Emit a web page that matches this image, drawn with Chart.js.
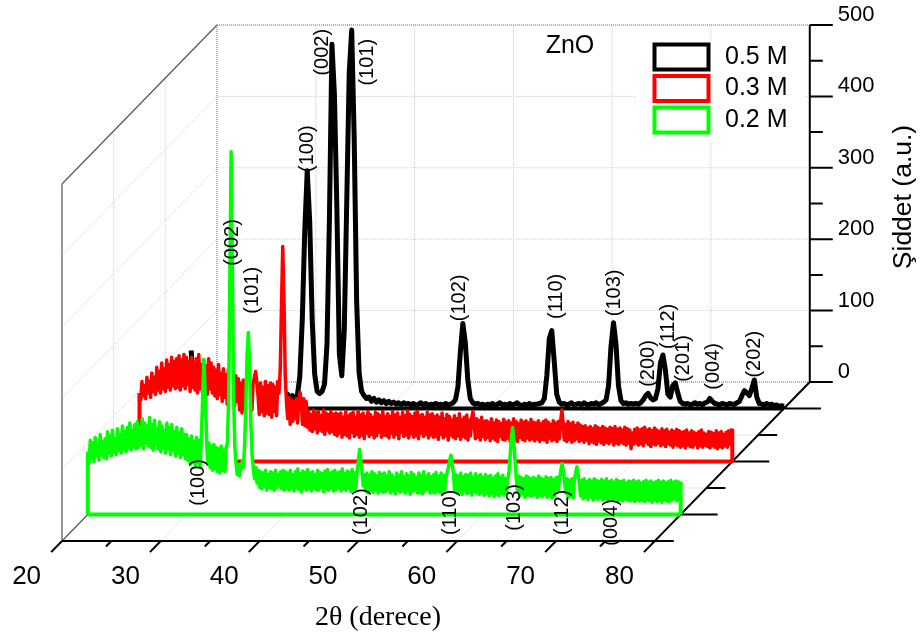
<!DOCTYPE html>
<html>
<head>
<meta charset="utf-8">
<title>ZnO</title>
<script src="https://cdn.jsdelivr.net/npm/chart.js@4"></script>
<style>
  html, body { margin: 0; padding: 0; background: #fff; }
  canvas { display: block; }
</style>
</head>
<body>
<canvas id="chartCanvas" width="922" height="637"></canvas>
<script>
const angles = [
  20,20.25,20.5,20.75,21,21.25,21.5,21.75,22,22.25,22.5,22.75,23,23.25,23.5,23.75,24,24.25,24.5,24.75,
  25,25.25,25.5,25.75,26,26.25,26.5,26.75,27,27.25,27.5,27.75,28,28.25,28.5,28.75,29,29.25,29.5,29.75,
  30,30.25,30.5,30.75,31,31.25,31.5,31.75,32,32.25,32.5,32.75,33,33.25,33.5,33.75,34,34.25,34.5,34.75,
  35,35.25,35.5,35.75,36,36.25,36.5,36.75,37,37.25,37.5,37.75,38,38.25,38.5,38.75,39,39.25,39.5,39.75,
  40,40.25,40.5,40.75,41,41.25,41.5,41.75,42,42.25,42.5,42.75,43,43.25,43.5,43.75,44,44.25,44.5,44.75,
  45,45.25,45.5,45.75,46,46.25,46.5,46.75,47,47.25,47.5,47.75,48,48.25,48.5,48.75,49,49.25,49.5,49.75,
  50,50.25,50.5,50.75,51,51.25,51.5,51.75,52,52.25,52.5,52.75,53,53.25,53.5,53.75,54,54.25,54.5,54.75,
  55,55.25,55.5,55.75,56,56.25,56.5,56.75,57,57.25,57.5,57.75,58,58.25,58.5,58.75,59,59.25,59.5,59.75,
  60,60.25,60.5,60.75,61,61.25,61.5,61.75,62,62.25,62.5,62.75,63,63.25,63.5,63.75,64,64.25,64.5,64.75,
  65,65.25,65.5,65.75,66,66.25,66.5,66.75,67,67.25,67.5,67.75,68,68.25,68.5,68.75,69,69.25,69.5,69.75,
  70,70.25,70.5,70.75,71,71.25,71.5,71.75,72,72.25,72.5,72.75,73,73.25,73.5,73.75,74,74.25,74.5,74.75,
  75,75.25,75.5,75.75,76,76.25,76.5,76.75,77,77.25,77.5,77.75,78,78.25,78.5,78.75,79,79.25,79.5,79.75,
  80
];

// the two noisy scans are read at a finer step
const fineAngles = [
  20,20.125,20.25,20.375,20.5,20.625,20.75,20.875,21,21.125,21.25,21.375,21.5,21.625,21.75,21.875,22,22.125,22.25,22.375,22.5,22.625,22.75,22.875,23,23.125,23.25,23.375,23.5,23.625,23.75,23.875,24,24.125,24.25,24.375,24.5,24.625,24.75,24.875,
  25,25.125,25.25,25.375,25.5,25.625,25.75,25.875,26,26.125,26.25,26.375,26.5,26.625,26.75,26.875,27,27.125,27.25,27.375,27.5,27.625,27.75,27.875,28,28.125,28.25,28.375,28.5,28.625,28.75,28.875,29,29.125,29.25,29.375,29.5,29.625,29.75,29.875,
  30,30.125,30.25,30.375,30.5,30.625,30.75,30.875,31,31.125,31.25,31.375,31.5,31.625,31.75,31.875,32,32.125,32.25,32.375,32.5,32.625,32.75,32.875,33,33.125,33.25,33.375,33.5,33.625,33.75,33.875,34,34.125,34.25,34.375,34.5,34.625,34.75,34.875,
  35,35.125,35.25,35.375,35.5,35.625,35.75,35.875,36,36.125,36.25,36.375,36.5,36.625,36.75,36.875,37,37.125,37.25,37.375,37.5,37.625,37.75,37.875,38,38.125,38.25,38.375,38.5,38.625,38.75,38.875,39,39.125,39.25,39.375,39.5,39.625,39.75,39.875,
  40,40.125,40.25,40.375,40.5,40.625,40.75,40.875,41,41.125,41.25,41.375,41.5,41.625,41.75,41.875,42,42.125,42.25,42.375,42.5,42.625,42.75,42.875,43,43.125,43.25,43.375,43.5,43.625,43.75,43.875,44,44.125,44.25,44.375,44.5,44.625,44.75,44.875,
  45,45.125,45.25,45.375,45.5,45.625,45.75,45.875,46,46.125,46.25,46.375,46.5,46.625,46.75,46.875,47,47.125,47.25,47.375,47.5,47.625,47.75,47.875,48,48.125,48.25,48.375,48.5,48.625,48.75,48.875,49,49.125,49.25,49.375,49.5,49.625,49.75,49.875,
  50,50.125,50.25,50.375,50.5,50.625,50.75,50.875,51,51.125,51.25,51.375,51.5,51.625,51.75,51.875,52,52.125,52.25,52.375,52.5,52.625,52.75,52.875,53,53.125,53.25,53.375,53.5,53.625,53.75,53.875,54,54.125,54.25,54.375,54.5,54.625,54.75,54.875,
  55,55.125,55.25,55.375,55.5,55.625,55.75,55.875,56,56.125,56.25,56.375,56.5,56.625,56.75,56.875,57,57.125,57.25,57.375,57.5,57.625,57.75,57.875,58,58.125,58.25,58.375,58.5,58.625,58.75,58.875,59,59.125,59.25,59.375,59.5,59.625,59.75,59.875,
  60,60.125,60.25,60.375,60.5,60.625,60.75,60.875,61,61.125,61.25,61.375,61.5,61.625,61.75,61.875,62,62.125,62.25,62.375,62.5,62.625,62.75,62.875,63,63.125,63.25,63.375,63.5,63.625,63.75,63.875,64,64.125,64.25,64.375,64.5,64.625,64.75,64.875,
  65,65.125,65.25,65.375,65.5,65.625,65.75,65.875,66,66.125,66.25,66.375,66.5,66.625,66.75,66.875,67,67.125,67.25,67.375,67.5,67.625,67.75,67.875,68,68.125,68.25,68.375,68.5,68.625,68.75,68.875,69,69.125,69.25,69.375,69.5,69.625,69.75,69.875,
  70,70.125,70.25,70.375,70.5,70.625,70.75,70.875,71,71.125,71.25,71.375,71.5,71.625,71.75,71.875,72,72.125,72.25,72.375,72.5,72.625,72.75,72.875,73,73.125,73.25,73.375,73.5,73.625,73.75,73.875,74,74.125,74.25,74.375,74.5,74.625,74.75,74.875,
  75,75.125,75.25,75.375,75.5,75.625,75.75,75.875,76,76.125,76.25,76.375,76.5,76.625,76.75,76.875,77,77.125,77.25,77.375,77.5,77.625,77.75,77.875,78,78.125,78.25,78.375,78.5,78.625,78.75,78.875,79,79.125,79.25,79.375,79.5,79.625,79.75,79.875,
  80
];

const black05 = [
  81,30,26,22,28,24,26,22,27,23,28,24,26,21,27,23,28,22,25,24,
  27,21,26,23,28,22,25,20,27,24,23,26,21,30,19,24,17,22,15,20,
  14,18,13,18,45,125,250,333,262,125,48,24,21,24,34,90,270,510,440,280,
  76,46,110,290,470,530,380,150,50,24,18,14,16,10,14,9,12,8,11,7,
  10,7,9,6,8,5,8,6,7,5,7,4,6,8,5,7,4,6,5,7,
  5,6,4,7,5,6,8,12,30,80,119,92,40,14,8,6,7,5,6,4,
  6,5,7,4,6,8,5,6,4,7,5,6,8,5,4,6,5,7,4,6,
  6,7,8,14,46,98,109,66,20,9,6,7,5,6,8,5,6,7,5,8,
  6,5,7,6,8,5,7,9,12,32,88,120,90,32,11,7,8,6,7,6,
  7,6,8,12,18,21,15,12,14,28,64,75,54,20,16,32,36,22,10,7,
  6,7,5,6,8,6,7,5,8,9,14,10,7,6,5,7,6,5,7,6,
  6,8,10,18,25,22,18,28,40,16,7,6,5,7,5,6,4,5,3,4,
  3
];

const red03 = [
  96,86,112,92,106,88,118,96,112,90,124,98,118,94,132,100,126,96,138,102,130,98,142,104,136,100,146,106,140,102,144,104,148,100,142,106,150,102,146,108,
  140,98,146,104,138,100,144,96,150,102,136,98,142,100,134,94,144,102,138,96,132,92,128,88,136,94,124,84,130,90,122,80,128,86,118,82,124,78,120,84,
  116,72,110,68,114,74,108,66,112,70,106,72,108,118,126,112,92,66,110,70,104,64,112,68,106,66,110,62,108,70,104,64,112,96,130,220,301,225,120,84,
  60,90,52,86,56,84,60,88,54,86,97,84,52,88,50,84,48,70,44,66,42,72,46,68,40,70,44,64,42,72,38,68,44,66,40,70,42,66,38,68,
  36,66,40,68,34,62,38,70,36,64,33,67,41,69,35,62,38,71,34,65,37,68,32,63,40,70,35,66,38,62,33,69,36,67,41,64,34,70,37,63,
  36,67,33,63,40,70,34,65,38,68,32,62,41,69,35,64,37,71,33,66,39,63,34,68,36,70,32,64,40,66,35,62,38,69,33,65,37,67,34,63,
  35,65,31,62,38,68,33,60,36,66,30,63,37,58,34,64,32,60,36,67,31,59,35,62,33,65,30,58,36,61,70,52,32,60,34,57,30,62,35,56,
  31,57,34,55,29,60,33,54,30,58,28,56,35,53,31,59,30,55,33,57,29,54,32,60,30,56,28,53,34,58,31,55,29,57,33,54,30,59,32,55,
  29,54,32,57,28,53,31,56,30,58,27,55,33,52,29,57,31,54,28,56,32,56,72,54,30,52,28,56,31,53,27,55,29,50,32,54,28,51,30,49,
  27,50,30,47,25,49,28,46,26,50,24,48,29,46,26,49,24,47,27,45,25,48,28,46,23,49,26,45,24,47,27,44,25,48,23,46,26,44,18,40,
  24,45,26,47,23,44,25,46,22,48,27,44,24,46,21,43,25,47,23,44,26,42,22,46,24,43,21,45,25,41,23,44,20,42,24,45,22,43,20,41,
  22,42,19,44,23,40,21,43,20,41,24,39,19,42,22,44,20,40,23,38,21,42,19,41,22,39,20,43,18,40,21,42,19,38,22,41,20,43,24,42,
  46
];

const green02 = [
  88,72,104,78,100,74,108,82,96,76,112,84,102,80,106,78,116,86,110,82,118,88,106,84,120,90,112,86,124,92,116,88,122,94,128,90,118,96,126,92,
  130,94,122,98,134,92,128,100,124,96,136,94,126,90,132,98,120,92,130,88,124,94,118,86,128,92,122,84,126,90,116,82,122,86,114,80,120,84,112,78,
  112,76,106,70,110,74,102,68,108,72,104,66,110,165,217,170,118,70,100,66,96,62,98,64,94,60,92,58,96,62,90,60,94,100,160,330,508,350,170,96,
  72,56,70,54,68,74,66,100,160,225,255,210,130,84,64,50,66,44,62,38,60,36,58,40,62,34,56,38,60,36,58,34,62,38,56,40,60,36,62,34,
  60,36,58,34,62,38,56,33,60,37,64,35,57,32,61,38,59,34,63,36,58,33,60,37,56,35,62,34,59,38,57,32,61,36,63,34,58,37,60,33,
  62,35,58,38,60,33,64,36,57,34,61,37,59,32,63,35,58,36,60,74,91,76,60,40,56,33,58,30,55,34,60,31,57,35,54,30,59,33,56,31,
  58,32,54,35,60,30,56,33,52,29,58,34,55,31,60,33,53,30,57,35,54,28,59,32,56,34,52,30,58,31,55,29,60,33,54,35,57,30,53,32,
  56,30,59,33,54,31,58,28,55,34,52,60,66,76,83,72,58,34,56,30,54,32,58,28,53,33,56,29,55,31,58,27,52,32,57,30,54,28,56,31,
  52,27,56,30,53,26,55,29,51,25,54,28,57,26,52,30,55,27,50,29,48,60,84,108,122,100,74,50,32,54,26,52,29,50,24,54,28,52,26,50,
  26,52,28,50,24,54,27,51,25,49,28,53,24,50,27,52,23,49,26,51,52,34,50,62,71,62,48,30,50,24,48,26,50,23,50,58,67,56,42,26,
  48,22,50,24,46,21,49,25,47,20,50,23,48,21,46,24,49,20,47,22,50,19,46,23,48,20,45,22,49,18,47,21,46,19,48,22,44,20,47,19,
  46,20,48,18,45,21,47,19,44,20,46,18,48,21,45,19,47,17,44,20,46,18,48,20,45,17,47,21,44,19,46,18,48,20,45,22,47,19,46,22,
  46
];

const seriesNames = ["0.5 M", "0.3 M", "0.2 M"];
const seriesColors = ["#000000", "#ff0000", "#00ff00"];
const seriesDepths = [5, 3, 1];

const blackHkl = ["(100)","(002)","(101)","(102)","(110)","(103)","(200)","(112)","(201)","(004)","(202)"];
const blackHklAngles = [31.74,33.26,37.81,47.13,56.94,62.81,66.26,68.28,69.8,72.83,76.98];
const blackHklHeights = [364,499,485,155,157,162,63,115,70,59,76];

const greenHkl = ["(100)","(002)","(101)","(102)","(110)","(103)","(112)","(004)"];
const greenHklAngles = [31.2,34.68,36.7,47.73,56.74,63.22,68.08,73.04];
const greenHklHeights = [45,381,314,4,3,10,3,-11];

const xTicks = [20,30,40,50,60,70,80];
const xMinorTicks = [25,35,45,55,65,75];
const yTicks = [0,100,200,300,400,500];
const yMinorTicks = [50,150,250,350,450];
const depthMajor = [1,3,5];
const depthMinor = [0,2,4];

// picture scale: pixels per degree, per intensity unit, and what one depth step shifts
const pxPerDeg = 9.88;
const pxPerUnit = 0.714;
const degPerDepth = 25.83 / pxPerDeg;
const unitPerDepth = 26.5 / pxPerUnit;
const maxDepth = 6;

function project(angle, height, depth) {
    return { x: angle + depth * degPerDepth, y: height + depth * unitPerDepth };
}

function curvePoints(xs, values, depth) {
    return values.map((v, i) => project(xs[i], v, depth));
}

// baseline and the two end drops of a curve
function outlineSegments(values, depth) {
    return [
        [project(20, 0, depth), project(20, values[0], depth)],
        [project(20, 0, depth), project(80, 0, depth)],
        [project(80, 0, depth), project(80, values[values.length - 1], depth)]
    ];
}

// several separate segments in a single dataset, split with NaN points
function segments(list) {
    const pts = [];
    list.forEach(s => { pts.push(s[0], s[1], { x: NaN, y: NaN }); });
    return pts;
}

function lineSet(label, list, color, width, dash, order) {
    return {
        label: label,
        data: segments(list),
        showLine: true,
        borderColor: color,
        borderWidth: width,
        borderDash: dash,
        pointRadius: 0,
        order: order
    };
}

const gridLines = [];
yTicks.slice(1, 5).forEach(v => {
    gridLines.push([project(20, v, maxDepth), project(80, v, maxDepth)]);
    gridLines.push([project(20, v, 0), project(20, v, maxDepth)]);
});
xTicks.slice(1, 6).forEach(a => {
    gridLines.push([project(a, 0, maxDepth), project(a, 500, maxDepth)]);
    gridLines.push([project(a, 0, 0), project(a, 0, maxDepth)]);
});
[2, 4].forEach(d => {
    gridLines.push([project(20, 0, d), project(20, 500, d)]);
    gridLines.push([project(20, 0, d), project(80, 0, d)]);
});

const wallDotted = [
    [project(20, 500, maxDepth), project(80, 500, maxDepth)],
    [project(20, 0, maxDepth), project(80, 0, maxDepth)],
    [project(20, 0, maxDepth), project(20, 500, maxDepth)]
];

const wallSolid = [
    [project(20, 0, 0), project(20, 500, 0)],
    [project(20, 500, 0), project(20, 500, maxDepth)],
    [project(20, 0, 0), project(20, 0, maxDepth)]
];

const axisLines = [
    [project(20, 0, 0), project(80, 0, 0)],
    [project(80, 0, -0.42), project(80, 0, maxDepth)],
    [project(80, 0, maxDepth), project(80, 500, maxDepth)]
];
xTicks.forEach(a => axisLines.push([project(a, 0, 0), project(a, 0, -0.42)]));
xMinorTicks.forEach(a => axisLines.push([project(a, 0, 0), project(a, 0, -0.21)]));
yTicks.forEach(v => axisLines.push([project(80, v, maxDepth), project(80 + 23 / pxPerDeg, v, maxDepth)]));
yMinorTicks.forEach(v => axisLines.push([project(80, v, maxDepth), project(80 + 13 / pxPerDeg, v, maxDepth)]));
depthMajor.forEach(d => axisLines.push([project(80, 0, d), project(80 + 37 / pxPerDeg, 0, d)]));
depthMinor.forEach(d => axisLines.push([project(80, 0, d), project(80 + 19 / pxPerDeg, 0, d)]));

// legend, titles, hkl labels: everything that is text goes through the same projection
const textPlugin = {
    id: "textPlugin",
    afterDatasetDraw(chart, args) {
        // legend area hides the back wall grid
        if (chart.data.datasets[args.index].label === "grid") {
            chart.ctx.fillStyle = "#fff";
            chart.ctx.fillRect(636, 40, 168, 103);
        }
    },
    afterDatasetsDraw(chart) {
        const ctx = chart.ctx;
        const sx = chart.scales.x, sy = chart.scales.y;
        const px = p => [sx.getPixelForValue(p.x), sy.getPixelForValue(p.y)];
        ctx.save();
        ctx.fillStyle = "#000";
        ctx.textBaseline = "middle";

        function vertical(text, x, y, font) {
            ctx.save();
            ctx.translate(x, y);
            ctx.rotate(-Math.PI / 2);
            ctx.textAlign = "center";
            ctx.font = font;
            ctx.fillText(text, 0, 0);
            ctx.restore();
        }

        blackHkl.forEach((t, i) => {
            const p = px(project(blackHklAngles[i], blackHklHeights[i], seriesDepths[0]));
            vertical(t, p[0], p[1], "20px 'Liberation Sans'");
        });
        greenHkl.forEach((t, i) => {
            const p = px(project(greenHklAngles[i], greenHklHeights[i], seriesDepths[2]));
            vertical(t, p[0], p[1], "20px 'Liberation Sans'");
        });

        ctx.textAlign = "center";
        ctx.font = "26px 'Liberation Sans'";
        xTicks.forEach(a => {
            const p = px(project(a, 0, -1.37));
            ctx.fillText(String(a), p[0], p[1]);
        });

        ctx.textAlign = "left";
        ctx.font = "22px 'Liberation Sans'";
        yTicks.forEach(v => {
            const p = px(project(80, v, maxDepth));
            ctx.fillText(String(v), p[0] + 28, p[1] - 10);
        });

        vertical("Şiddet (a.u.)", 904, 197, "26.5px 'Liberation Sans'");

        ctx.textAlign = "center";
        ctx.font = "28px 'Liberation Serif'";
        ctx.fillText("2θ (derece)", 378, 618);

        ctx.font = "25px 'Liberation Sans'";
        ctx.fillText("ZnO", 570, 46);

        ctx.textAlign = "left";
        seriesNames.forEach((name, i) => {
            const top = 44.5 + i * 31.5;
            ctx.strokeStyle = seriesColors[i];
            ctx.lineWidth = 4;
            ctx.strokeRect(654.5, top, 54, 25);
            ctx.fillStyle = "#000";
            ctx.fillText(name, 725, top + 12.5);
        });
        ctx.restore();
    }
};

const datasets = [
    lineSet("grid", gridLines, "#cfcfcf", 1, [1, 1], 10),
    lineSet("wall dotted", wallDotted, "#666666", 1, [1, 1], 9),
    lineSet("wall", wallSolid, "#555555", 1.2, [], 8),
    lineSet("axes", axisLines, "#000000", 2, [], 7)
];

seriesNames.forEach((name, i) => {
    const values = [black05, red03, green02][i];
    const xs = i === 0 ? angles : fineAngles;
    const depth = seriesDepths[i];
    datasets.push({
        label: name,
        data: curvePoints(xs, values, depth),
        showLine: true,
        borderColor: seriesColors[i],
        borderWidth: i === 0 ? 5 : 3.5,
        borderJoinStyle: "round",
        // each curve is white underneath, so it hides whatever stands behind it
        fill: { target: { value: depth * unitPerDepth } },
        backgroundColor: "#fff",
        pointRadius: 0,
        order: 6 - 2 * i
    });
    datasets.push(lineSet(name + " outline", outlineSegments(values, depth), seriesColors[i], 4, [], 5 - 2 * i));
});

new Chart(document.getElementById("chartCanvas"), {
    type: "scatter",
    data: { datasets: datasets },
    plugins: [textPlugin],
    options: {
        responsive: false,
        animation: false,
        layout: { padding: 0 },
        plugins: { legend: { display: false }, tooltip: { enabled: false } },
        scales: {
            x: { type: "linear", display: false, min: 20 - 62 / pxPerDeg, max: 20 + (922 - 62) / pxPerDeg },
            y: { type: "linear", display: false, min: -(637 - 541) / pxPerUnit, max: 541 / pxPerUnit }
        }
    }
});
</script>
</body>
</html>
